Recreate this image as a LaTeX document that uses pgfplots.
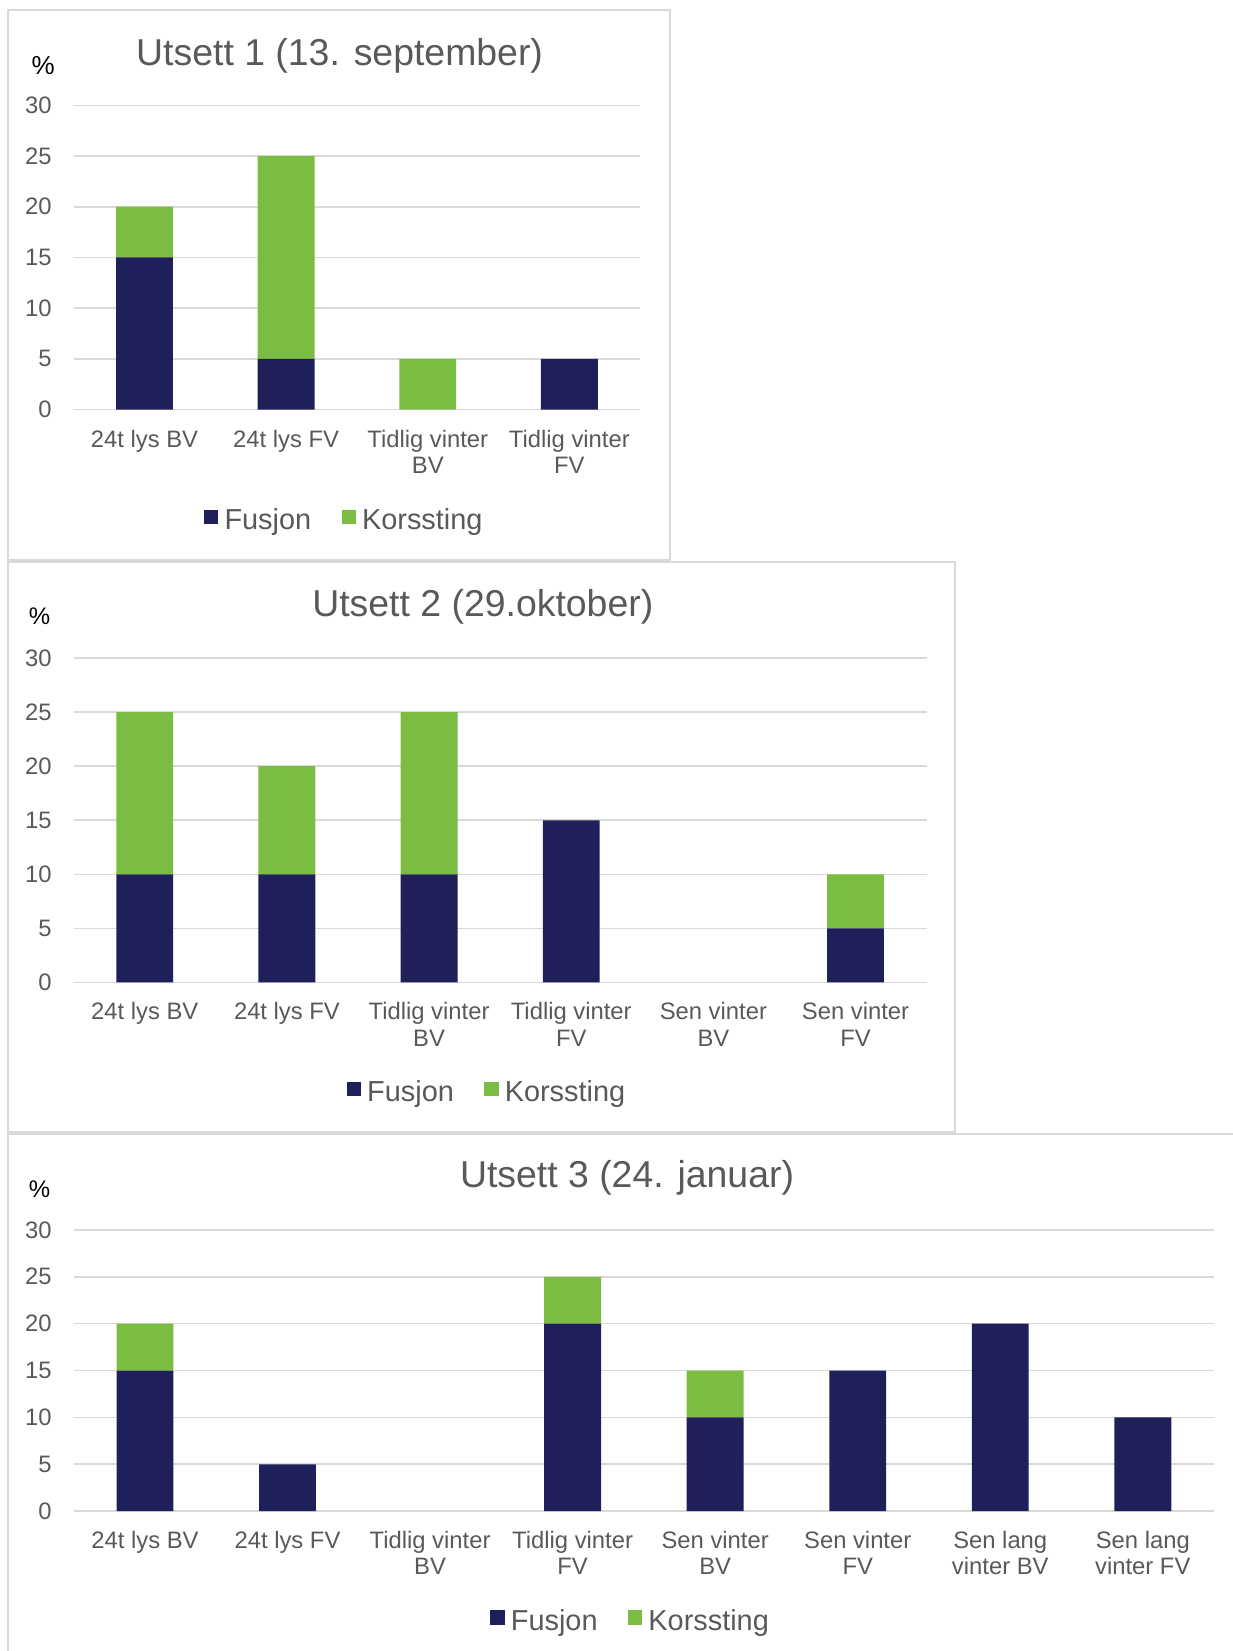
\documentclass[border=0pt]{standalone}
\usepackage{fontspec}
\setmainfont{Liberation Sans}
\usepackage{pgfplots}
\pgfplotsset{compat=1.18}
\definecolor{navy}{HTML}{1F1F5A}
\definecolor{lgreen}{HTML}{7ABD42}
\definecolor{gridgray}{HTML}{D9D9D9}
\definecolor{txtgray}{HTML}{595959}
\definecolor{framegray}{HTML}{D9D9D9}
\pgfplotsset{
  panel/.style={
    scale only axis,
    ybar stacked,
    bar width=56.9pt,
    ymin=0, ymax=30,
    ytick={0,5,10,15,20,25,30},
    yticklabels={0,5,10,15,20,25,30},
    xtick=data,
    ymajorgrids,
    grid style={draw=gridgray, line width=1.6pt},
    axis line style={draw=none},
    major tick length=0pt,
    tick style={draw=none},
    yticklabel style={anchor=east, inner sep=0pt, xshift=-22pt, font=\fontsize{23.8pt}{26.4pt}\selectfont, text=txtgray},
    xticklabel style={anchor=north, inner sep=0pt, yshift=-20pt, align=center, font=\fontsize{23.8pt}{26.4pt}\selectfont, text=txtgray},
    legend columns=2,
    legend style={draw=none, fill=none, anchor=center, font=\fontsize{28.9pt}{32pt}\selectfont, text=txtgray, inner sep=0pt,
      /tikz/every even column/.append style={column sep=28.4pt},
      /tikz/every odd column/.append style={column sep=4.2pt}},
    clip=false,
  },
  fus/.style={fill=navy, draw=none, legend image code/.code={\fill[navy] (0pt,-4pt) rectangle (14.2pt,10.2pt);}},
  kor/.style={fill=lgreen, draw=none, legend image code/.code={\fill[lgreen] (0pt,-4pt) rectangle (14.2pt,10.2pt);}},
}
\begin{document}
\begin{tikzpicture}
\useasboundingbox (0pt,0pt) rectangle (1233pt,-1651pt);
% frames
\draw[framegray, line width=2pt] (8.4pt,-10.5pt) rectangle (669.7pt,-560.2pt);
\draw[framegray, line width=2pt] (8.4pt,-562.3pt) rectangle (955pt,-1132pt);
\draw[framegray, line width=2pt] (1240pt,-1134pt) -- (8.4pt,-1134pt) -- (8.4pt,-1660pt);

% Panel 1
\begin{axis}[panel, at={(73.7pt,-409.6pt)}, anchor=south west, width=566.5pt, height=304.3pt,
  xmin=-0.5, xmax=3.5,
  xticklabels={24t lys BV, 24t lys FV, {Tidlig vinter\\BV}, {Tidlig vinter\\FV}},
  legend style={at={(0.4777,-0.3628)}}]
\addplot[fus] coordinates {(0,15) (1,5) (2,0) (3,5)};
\addplot[kor] coordinates {(0,5) (1,20) (2,5) (3,0)};
\addlegendentry{Fusjon}
\addlegendentry{Korssting}
\end{axis}
\node[font=\fontsize{37.4pt}{44pt}\selectfont, text=txtgray] at (339.6pt,-56pt) {Utsett 1 (13. september)};
\node[font=\fontsize{26pt}{30pt}\selectfont] at (43.2pt,-66pt) {\%};

% Panel 2
\begin{axis}[panel, at={(73.7pt,-982.4pt)}, anchor=south west, width=852.9pt, height=324.3pt,
  xmin=-0.5, xmax=5.5,
  xticklabels={24t lys BV, 24t lys FV, {Tidlig vinter\\BV}, {Tidlig vinter\\FV}, {Sen vinter\\BV}, {Sen vinter\\FV}},
  legend style={at={(0.4846,-0.338)}}]
\addplot[fus] coordinates {(0,10) (1,10) (2,10) (3,15) (4,0) (5,5)};
\addplot[kor] coordinates {(0,15) (1,10) (2,15) (3,0) (4,0) (5,5)};
\addlegendentry{Fusjon}
\addlegendentry{Korssting}
\end{axis}
\node[font=\fontsize{37.4pt}{44pt}\selectfont, text=txtgray] at (482.8pt,-607pt) {Utsett 2 (29.oktober)};
\node[font=\fontsize{24pt}{28pt}\selectfont] at (39.5pt,-616pt) {\%};

% Panel 3
\begin{axis}[panel, at={(73.7pt,-1511.1pt)}, anchor=south west, width=1140.4pt, height=281.2pt,
  xmin=-0.5, xmax=7.5,
  xticklabels={24t lys BV, 24t lys FV, {Tidlig vinter\\BV}, {Tidlig vinter\\FV}, {Sen vinter\\BV}, {Sen vinter\\FV}, {Sen lang\\vinter BV}, {Sen lang\\vinter FV}},
  legend style={at={(0.4884,-0.3894)}}]
\addplot[fus] coordinates {(0,15) (1,5) (2,0) (3,20) (4,10) (5,15) (6,20) (7,10)};
\addplot[kor] coordinates {(0,5) (1,0) (2,0) (3,5) (4,5) (5,0) (6,0) (7,0)};
\addlegendentry{Fusjon}
\addlegendentry{Korssting}
\end{axis}
\node[font=\fontsize{37.4pt}{44pt}\selectfont, text=txtgray] at (627pt,-1178pt) {Utsett 3 (24. januar)};
\node[font=\fontsize{24pt}{28pt}\selectfont] at (39.5pt,-1189pt) {\%};
\end{tikzpicture}
\end{document}
